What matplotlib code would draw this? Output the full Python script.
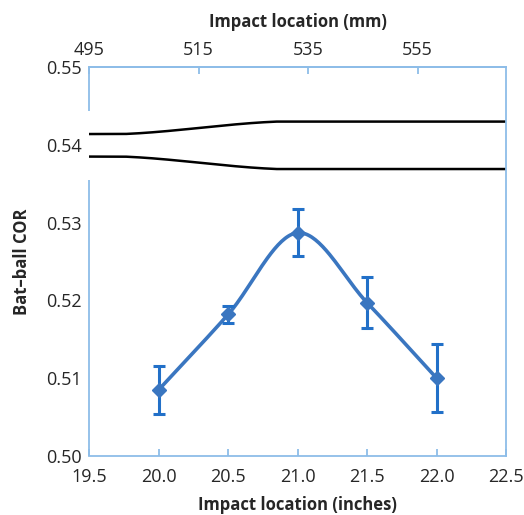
import numpy as np
import matplotlib
matplotlib.use("Agg")
import matplotlib.pyplot as plt

plt.rcParams['font.family'] = ['Open Sans', 'DejaVu Sans']

# measured bat-ball COR vs impact location
loc_in = [20.0, 20.5, 21.0, 21.5, 22.0]
cor = [0.5085, 0.5182, 0.5287, 0.5197, 0.5100]
cor_err = [0.0031, 0.0011, 0.0030, 0.0033, 0.0044]

# bat profile outline (inches, COR-axis units)
bat_x = [19.5, 19.75, 20.85, 22.5]
bat_top = [0.5414, 0.5414, 0.5430, 0.5430]
bat_bot = [0.5385, 0.5385, 0.5369, 0.5369]

mm_ticks = [495, 515, 535, 555]
in_ticks = [19.5, 20.0, 20.5, 21.0, 21.5, 22.0, 22.5]
cor_ticks = [0.50, 0.51, 0.52, 0.53, 0.54, 0.55]

blue = '#3A76C0'
ebar = '#2270C8'
spine = '#8DBDE8'
txt = '#262626'


def smooth(xs, ys, n=40):
    # Catmull-Rom curve through the points, like a spreadsheet "smoothed line"
    xs = np.asarray(xs, float); ys = np.asarray(ys, float)
    px = np.concatenate([[2 * xs[0] - xs[1]], xs, [2 * xs[-1] - xs[-2]]])
    py = np.concatenate([[2 * ys[0] - ys[1]], ys, [2 * ys[-1] - ys[-2]]])
    ox, oy = [], []
    for i in range(1, len(px) - 2):
        t = np.linspace(0, 1, n)
        for p, o in ((px, ox), (py, oy)):
            p0, p1, p2, p3 = p[i - 1], p[i], p[i + 1], p[i + 2]
            c1 = p1 + (p2 - p0) / 6
            c2 = p2 - (p3 - p1) / 6
            o.extend((1 - t) ** 3 * p1 + 3 * (1 - t) ** 2 * t * c1
                     + 3 * (1 - t) * t ** 2 * c2 + t ** 3 * p2)
    return np.array(ox), np.array(oy)


def ease(xs, ys, n=60):
    # flat-ramp-flat with eased corners for the bat taper
    out_x, out_y = [], []
    for i in range(len(xs) - 1):
        t = np.linspace(0, 1, n)
        s = t * t * (3 - 2 * t) if i == 1 else t
        out_x.extend(xs[i] + (xs[i + 1] - xs[i]) * t)
        out_y.extend(ys[i] + (ys[i + 1] - ys[i]) * (0.5 * s + 0.5 * t if i == 1 else t))
    return out_x, out_y


fig = plt.figure(figsize=(5.24, 5.15), dpi=100)
ax = fig.add_axes([0.170, 0.1146, 0.796, 0.755])

sx, sy = smooth(loc_in, cor)
ax.plot(sx, sy, color=blue, lw=2.6, solid_capstyle='round', zorder=3)
ax.errorbar(loc_in, cor, yerr=cor_err, fmt='D', color=blue, ms=7.5,
            ecolor=ebar, elinewidth=2.2, capsize=4.5, capthick=2.2, zorder=4)

for yy in (bat_top, bat_bot):
    bx, by = ease(bat_x, yy)
    ax.plot(bx, by, color='black', lw=1.8, zorder=2)

ax.set_xlim(19.5, 22.5)
ax.set_ylim(0.50, 0.55)
ax.set_xticks(in_ticks)
ax.set_xticklabels(['%.1f' % v for v in in_ticks])
ax.set_yticks(cor_ticks)
ax.set_yticklabels(['%.2f' % v for v in cor_ticks])

for s in ('top', 'right', 'bottom'):
    ax.spines[s].set_color(spine)
    ax.spines[s].set_linewidth(1.3)
ax.spines['left'].set_visible(False)
# left axis line is broken where the bat outline crosses it
for lo, hi in ((0.50, 0.5355), (0.5443, 0.55)):
    ax.plot([19.5, 19.5], [lo, hi], color=spine, lw=1.3, clip_on=False,
            solid_capstyle='butt', zorder=1)

ax.tick_params(axis='x', direction='in', length=5, width=1.3, color=spine,
               labelsize=13, labelcolor=txt, pad=9)
ax.tick_params(axis='y', length=0, labelsize=13, labelcolor=txt, pad=5)

# mm scale starts at 495 on the left edge
top = ax.secondary_xaxis('top', functions=(lambda x: 495 + (x - 19.5) * 25.4,
                                           lambda m: 19.5 + (m - 495) / 25.4))
top.set_xticks(mm_ticks)
top.spines['top'].set_color(spine)
top.spines['top'].set_linewidth(1.3)
top.tick_params(direction='in', length=5, width=1.3, color=spine,
                labelsize=13, labelcolor=txt, pad=6)
top.set_xlabel('Impact location (mm)', fontsize=12, fontweight='bold',
               color=txt, labelpad=10)

ax.set_xlabel('Impact location (inches)', fontsize=12, fontweight='bold',
              color=txt, labelpad=7)
ax.set_ylabel('Bat\u2013ball COR', fontsize=12, fontweight='bold',
              color=txt, labelpad=11)

fig.savefig('out.png', dpi=100, facecolor='white')
